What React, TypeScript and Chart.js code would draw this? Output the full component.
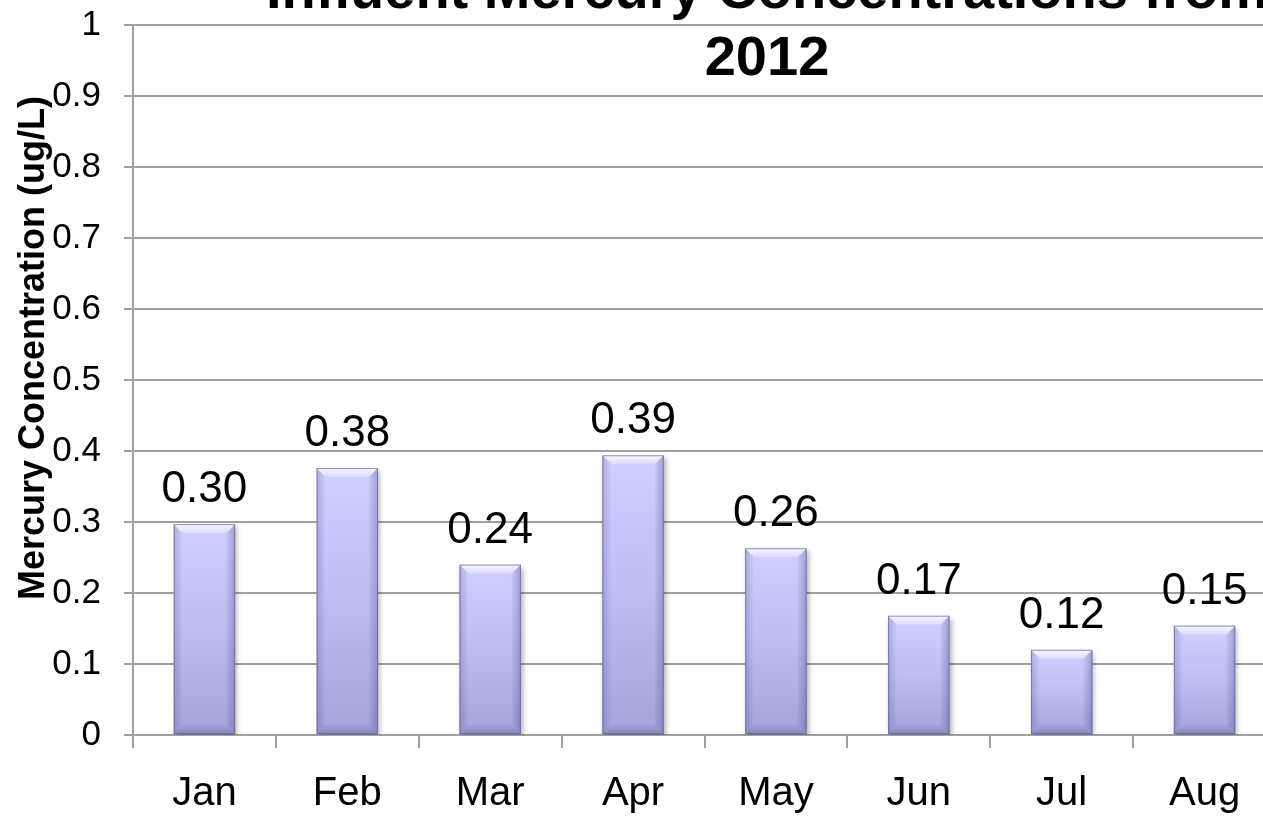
import React, { useEffect, useRef } from "react";
import { Chart, registerables } from "chart.js";

Chart.register(...registerables);

const months = ["Jan", "Feb", "Mar", "Apr", "May", "Jun", "Jul", "Aug"];
const mercury = [0.297, 0.376, 0.24, 0.394, 0.263, 0.168, 0.12, 0.154];
const valueLabels = ["0.30", "0.38", "0.24", "0.39", "0.26", "0.17", "0.12", "0.15"];
const yTickLabels = ["0", "0.1", "0.2", "0.3", "0.4", "0.5", "0.6", "0.7", "0.8", "0.9", "1"];
const titleLines = ["Influent Mercury Concentrations from", "2012"];
const yAxisTitle = "Mercury Concentration (ug/L)";

const FONT = '"Liberation Sans", Arial, sans-serif';
const SHIFT = 19;

function poly(ctx: any, pts: number[][], fill: any) {
  ctx.beginPath();
  ctx.moveTo(pts[0][0], pts[0][1]);
  for (let k = 1; k < pts.length; k++) ctx.lineTo(pts[k][0], pts[k][1]);
  ctx.closePath();
  ctx.fillStyle = fill;
  ctx.fill();
}

const barStylePlugin = {
  id: "barStyle",
  afterDatasetsDraw(chart: any) {
    const ctx = chart.ctx;
    const meta = chart.getDatasetMeta(0);
    meta.data.forEach((bar: any, i: number) => {
      const w = bar.width;
      const x0 = bar.x - w / 2;
      const x1 = bar.x + w / 2;
      const y0 = bar.y;
      const y1 = bar.base;
      const b = Math.min(9, (y1 - y0) / 3);
      ctx.save();
      const tg = ctx.createLinearGradient(0, y0, 0, y0 + b);
      tg.addColorStop(0, "rgba(255,255,255,0.85)");
      tg.addColorStop(1, "rgba(255,255,255,0.25)");
      poly(ctx, [[x0, y0], [x1, y0], [x1 - b, y0 + b], [x0 + b, y0 + b]], tg);
      const rg = ctx.createLinearGradient(x1 - b, 0, x1, 0);
      rg.addColorStop(0, "rgba(70,70,130,0.05)");
      rg.addColorStop(1, "rgba(70,70,130,0.35)");
      poly(ctx, [[x1, y0], [x1, y1], [x1 - b, y1 - b], [x1 - b, y0 + b]], rg);
      const lg = ctx.createLinearGradient(x0, 0, x0 + b, 0);
      lg.addColorStop(0, "rgba(70,70,130,0.25)");
      lg.addColorStop(1, "rgba(70,70,130,0.0)");
      poly(ctx, [[x0, y0], [x0 + b, y0 + b], [x0 + b, y1 - b], [x0, y1]], lg);
      const bg = ctx.createLinearGradient(0, y1 - b, 0, y1);
      bg.addColorStop(0, "rgba(70,70,130,0.05)");
      bg.addColorStop(1, "rgba(70,70,130,0.3)");
      poly(ctx, [[x0, y1], [x0 + b, y1 - b], [x1 - b, y1 - b], [x1, y1]], bg);
      ctx.strokeStyle = "rgba(100,100,150,0.7)";
      ctx.lineWidth = 1;
      ctx.strokeRect(x0 + 0.5, y0 + 0.5, w - 1, y1 - y0 - 1);
      ctx.fillStyle = "#000";
      ctx.font = `44px ${FONT}`;
      ctx.textAlign = "center";
      ctx.textBaseline = "alphabetic";
      ctx.fillText(valueLabels[i], bar.x, y0 - 22);
      ctx.restore();
    });
  },
};

const shadowPlugin = {
  id: "barShadow",
  beforeDatasetsDraw(chart: any) {
    const ctx = chart.ctx;
    ctx.save();
    ctx.shadowColor = "rgba(0,0,0,0.3)";
    ctx.shadowBlur = 5;
    ctx.shadowOffsetX = 2;
    ctx.shadowOffsetY = 3;
  },
  afterDatasetsDraw(chart: any) {
    chart.ctx.restore();
  },
};

const textPlugin = {
  id: "texts",
  afterDraw(chart: any) {
    const ctx = chart.ctx;
    ctx.save();
    ctx.fillStyle = "#000";
    ctx.textAlign = "center";
    ctx.textBaseline = "alphabetic";
    ctx.font = `bold 56px ${FONT}`;
    ctx.fillText(titleLines[0], 767, 8 + SHIFT);
    ctx.fillText(titleLines[1], 767, 75 + SHIFT);
    ctx.translate(34, 348 + SHIFT);
    ctx.rotate(-Math.PI / 2);
    ctx.textBaseline = "middle";
    ctx.font = `bold 36px ${FONT}`;
    ctx.fillText(yAxisTitle, 0, 0);
    ctx.restore();
  },
};

export default function App() {
  const ref = useRef<HTMLCanvasElement | null>(null);
  useEffect(() => {
    if (!ref.current) return;
    const chart = new Chart(ref.current, {
      type: "bar",
      data: {
        labels: months,
        datasets: [
          {
            data: mercury,
            backgroundColor: (c: any) => {
              const ch = c.chart;
              const area = ch.chartArea;
              if (!area) return "#bcbcf2";
              const v = c.raw as number;
              const ys = ch.scales.y;
              const top = ys.getPixelForValue(v);
              const bottom = ys.getPixelForValue(0);
              const g = ch.ctx.createLinearGradient(0, top, 0, bottom);
              g.addColorStop(0, "#cfcfff");
              g.addColorStop(0.5, "#bdbdf3");
              g.addColorStop(1, "#a3a3da");
              return g;
            },
            borderWidth: 0,
            barPercentage: 0.43,
            categoryPercentage: 1,
          },
        ],
      },
      options: {
        animation: false,
        responsive: false,
        layout: { padding: { top: 6, right: 4, left: 0, bottom: 0 } },
        plugins: {
          legend: { display: false },
          title: { display: false },
          tooltip: { enabled: false },
        },
        scales: {
          x: {
            afterFit: (s: any) => {
              s.height = 85;
            },
            grid: {
              offset: true,
              drawOnChartArea: false,
              drawTicks: true,
              tickLength: 13,
              color: "#a0a0a0",
              lineWidth: 2,
            },
            border: { color: "#a0a0a0", width: 2 },
            ticks: {
              color: "#000",
              font: { family: FONT, size: 40 },
              padding: 22,
            },
          },
          y: {
            min: 0,
            max: 1,
            afterFit: (s: any) => {
              s.width = 133;
            },
            ticks: {
              stepSize: 0.1,
              color: "#000",
              font: { family: FONT, size: 35 },
              padding: 23,
              callback: (_v: any, i: number) => yTickLabels[i],
            },
            grid: {
              color: "#a0a0a0",
              lineWidth: 2,
              tickLength: 9,
            },
            border: { color: "#a0a0a0", width: 2 },
          },
        },
      },
      plugins: [shadowPlugin, barStylePlugin, textPlugin],
    });
    return () => chart.destroy();
  }, []);
  return (
    <div
      style={{
        position: "absolute",
        left: 0,
        top: 0,
        width: 1263,
        height: 820,
        overflow: "hidden",
        background: "#fff",
      }}
    >
      <canvas
        ref={ref}
        width={1280}
        height={820 + SHIFT}
        style={{ display: "block", marginTop: -SHIFT }}
      />
    </div>
  );
}
